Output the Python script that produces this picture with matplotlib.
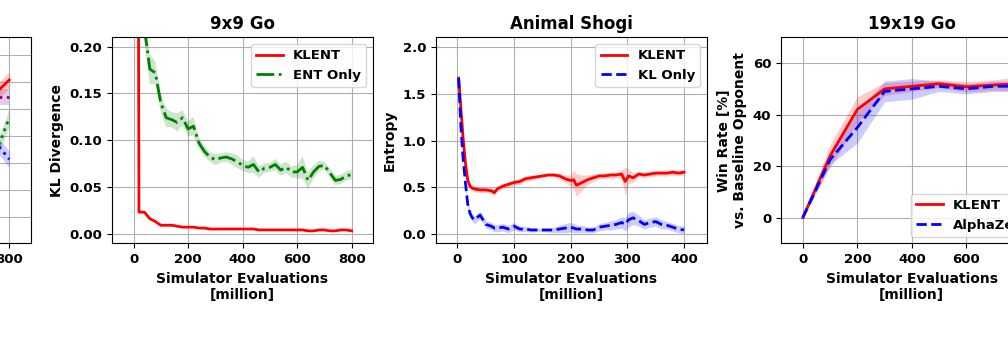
import matplotlib
matplotlib.use("Agg")
import matplotlib.pyplot as plt
import numpy as np

plt.rcParams['font.family'] = 'DejaVu Sans'
plt.rcParams['font.weight'] = 'bold'
plt.rcParams['axes.labelweight'] = 'bold'
plt.rcParams['axes.titleweight'] = 'bold'

# ---- panel cortado de la izquierda (solo se ve el final) ----
left_x = [700, 750, 800]
left_klent = [41, 45.8, 50.7]
left_purple = [44.5, 44.5, 44.5]
left_green = [17, 23.3, 36.8]
left_blue = [33, 27.5, 21.3]
left_std = [3, 3, 3]

# ---- 9x9 Go: KL divergence ----
go9_x = list(range(0, 801, 20))
go9_klent = [2.5, 0.023, 0.023, 0.016, 0.013, 0.009, 0.009, 0.009, 0.008, 0.007,
             0.007, 0.007, 0.006, 0.006, 0.005, 0.005, 0.005, 0.005, 0.005, 0.005,
             0.005, 0.005, 0.005, 0.004, 0.004, 0.004, 0.004, 0.004, 0.004, 0.004,
             0.004, 0.004, 0.003, 0.003, 0.004, 0.004, 0.003, 0.003, 0.004, 0.004, 0.003]
go9_klent_std = [0.001] * 41
go9_ent = [0.60, 0.35, 0.22, 0.176, 0.172, 0.140, 0.124, 0.122, 0.119, 0.124,
           0.112, 0.115, 0.097, 0.088, 0.082, 0.079, 0.081, 0.082, 0.080, 0.077,
           0.073, 0.071, 0.074, 0.066, 0.070, 0.071, 0.074, 0.068, 0.071, 0.066,
           0.066, 0.071, 0.057, 0.066, 0.072, 0.073, 0.065, 0.057, 0.058, 0.062, 0.063]
go9_ent_std = [0.02, 0.02, 0.015, 0.016, 0.012, 0.010, 0.010, 0.008, 0.010, 0.008,
               0.008, 0.010, 0.006, 0.006, 0.005, 0.006, 0.005, 0.005, 0.006, 0.007,
               0.006, 0.006, 0.009, 0.006, 0.005, 0.005, 0.006, 0.006, 0.006, 0.006,
               0.007, 0.012, 0.009, 0.007, 0.006, 0.004, 0.005, 0.005, 0.005, 0.005, 0.005]

# ---- Animal Shogi: entropia ----
shogi_x = [2, 6, 10, 14, 18, 22, 26, 30, 40, 50, 60, 65, 70, 80, 90, 100, 110, 120,
           130, 140, 150, 160, 170, 180, 190, 200, 205, 210, 220, 230, 240, 250, 260,
           270, 280, 290, 296, 302, 310, 320, 330, 340, 350, 360, 370, 380, 390, 400]
shogi_klent = [1.67, 1.35, 1.02, 0.76, 0.58, 0.51, 0.49, 0.48, 0.47, 0.47, 0.46, 0.44,
               0.48, 0.51, 0.53, 0.55, 0.56, 0.59, 0.60, 0.61, 0.62, 0.63, 0.63, 0.62,
               0.59, 0.57, 0.58, 0.52, 0.55, 0.58, 0.60, 0.62, 0.62, 0.63, 0.63, 0.64,
               0.56, 0.62, 0.60, 0.64, 0.63, 0.64, 0.65, 0.65, 0.65, 0.66, 0.65, 0.66]
shogi_klent_std = [0.01, 0.02, 0.02, 0.02, 0.02, 0.03, 0.03, 0.03, 0.03, 0.03, 0.03, 0.03,
                   0.03, 0.03, 0.03, 0.03, 0.03, 0.03, 0.03, 0.02, 0.02, 0.02, 0.02, 0.03,
                   0.04, 0.06, 0.10, 0.12, 0.08, 0.05, 0.04, 0.03, 0.03, 0.03, 0.03, 0.05,
                   0.15, 0.08, 0.05, 0.03, 0.03, 0.03, 0.03, 0.03, 0.03, 0.03, 0.03, 0.03]
shogi_kl = [1.67, 1.15, 0.80, 0.55, 0.32, 0.22, 0.17, 0.15, 0.20, 0.10, 0.08, 0.06,
            0.06, 0.07, 0.05, 0.08, 0.05, 0.05, 0.04, 0.04, 0.04, 0.04, 0.04, 0.05,
            0.06, 0.07, 0.06, 0.05, 0.05, 0.04, 0.04, 0.07, 0.08, 0.09, 0.10, 0.12,
            0.10, 0.15, 0.17, 0.14, 0.10, 0.12, 0.13, 0.10, 0.09, 0.07, 0.05, 0.04]
shogi_kl_std = [0.01, 0.03, 0.03, 0.04, 0.04, 0.04, 0.04, 0.04, 0.04, 0.04, 0.04, 0.04,
                0.04, 0.04, 0.04, 0.04, 0.03, 0.03, 0.02, 0.02, 0.02, 0.02, 0.03, 0.04,
                0.05, 0.05, 0.05, 0.04, 0.04, 0.03, 0.03, 0.04, 0.04, 0.05, 0.05, 0.06,
                0.07, 0.08, 0.07, 0.06, 0.05, 0.05, 0.05, 0.05, 0.04, 0.04, 0.04, 0.04]

# ---- 19x19 Go: win rate ----
go19_x = [0, 100, 200, 300, 400, 500, 600, 700, 800]
go19_klent = [0, 24, 42, 50, 51, 52, 50.8, 51.5, 52]
go19_klent_std = [0, 4.5, 5, 2.5, 2, 1.5, 2, 2, 3]
go19_az = [0, 22.5, 35, 49, 50, 51, 50, 51, 51]
go19_az_std = [0, 2, 6, 4, 4, 2, 2, 2, 2]


def curva(ax, x, m, s, color, ls, label=None, alpha=0.2):
    m = np.array(m)
    s = np.array(s)
    ax.fill_between(x, m - s, m + s, color=color, alpha=alpha, lw=0)
    ax.plot(x, m, color=color, ls=ls, lw=2, label=label)


def estilo(ax):
    ax.grid(True)
    ax.set_axisbelow(True)
    ax.tick_params(labelsize=9.5)
    ax.set_xlabel("Simulator Evaluations\n[million]", fontsize=10)


fig = plt.figure(figsize=(10.08, 3.59), dpi=100)
bot = 0.322
alto = 0.574

# panel izquierdo
ax0 = fig.add_axes([-0.2289, bot, 0.2592, alto])
curva(ax0, left_x, left_klent, left_std, 'red', '-')
curva(ax0, left_x, left_purple, left_std, 'purple', ':')
curva(ax0, left_x, left_green, left_std, 'green', ':')
curva(ax0, left_x, left_blue, left_std, 'blue', ':')
ax0.set_xlim(-80, 878)
ax0.set_ylim(-9.9, 66.5)
ax0.set_yticks([0, 10, 20, 30, 40, 50, 60])
ax0.set_xticks([0, 200, 400, 600, 800])
estilo(ax0)

# 9x9 Go
ax1 = fig.add_axes([0.1108, bot, 0.2592, alto])
curva(ax1, go9_x, go9_klent, go9_klent_std, 'red', '-', 'KLENT')
curva(ax1, go9_x, go9_ent, go9_ent_std, 'green', '-.', 'ENT Only')
ax1.set_xlim(-80, 878)
ax1.set_ylim(-0.0104, 0.21)
ax1.set_yticks([0.0, 0.05, 0.10, 0.15, 0.20])
ax1.set_xticks([0, 200, 400, 600, 800])
ax1.set_ylabel("KL Divergence", fontsize=10)
ax1.set_title("9x9 Go", fontsize=12)
ax1.legend(loc='upper right', fontsize=9.5)
estilo(ax1)

# Animal Shogi
ax2 = fig.add_axes([0.4325, bot, 0.2686, alto])
curva(ax2, shogi_x, shogi_klent, shogi_klent_std, 'red', '-', 'KLENT')
curva(ax2, shogi_x, shogi_kl, shogi_kl_std, 'blue', '--', 'KL Only')
ax2.set_xlim(-38, 440)
ax2.set_ylim(-0.104, 2.107)
ax2.set_yticks([0.0, 0.5, 1.0, 1.5, 2.0])
ax2.set_xticks([0, 100, 200, 300, 400])
ax2.set_ylabel("Entropy", fontsize=10)
ax2.set_title("Animal Shogi", fontsize=12)
ax2.legend(loc='upper right', fontsize=9.5)
estilo(ax2)

# 19x19 Go
ax3 = fig.add_axes([0.7748, bot, 0.2592, alto])
curva(ax3, go19_x, go19_klent, go19_klent_std, 'red', '-', 'KLENT')
curva(ax3, go19_x, go19_az, go19_az_std, 'blue', '--', 'AlphaZero')
ax3.set_xlim(-80, 878)
ax3.set_ylim(-10, 70)
ax3.set_yticks([0, 20, 40, 60])
ax3.set_xticks([0, 200, 400, 600, 800])
ax3.set_ylabel("Win Rate [%]\nvs. Baseline Opponent", fontsize=10)
ax3.set_title("19x19 Go", fontsize=12)
ax3.legend(loc='lower right', fontsize=9.5)
estilo(ax3)

fig.savefig("out.png", dpi=100)
